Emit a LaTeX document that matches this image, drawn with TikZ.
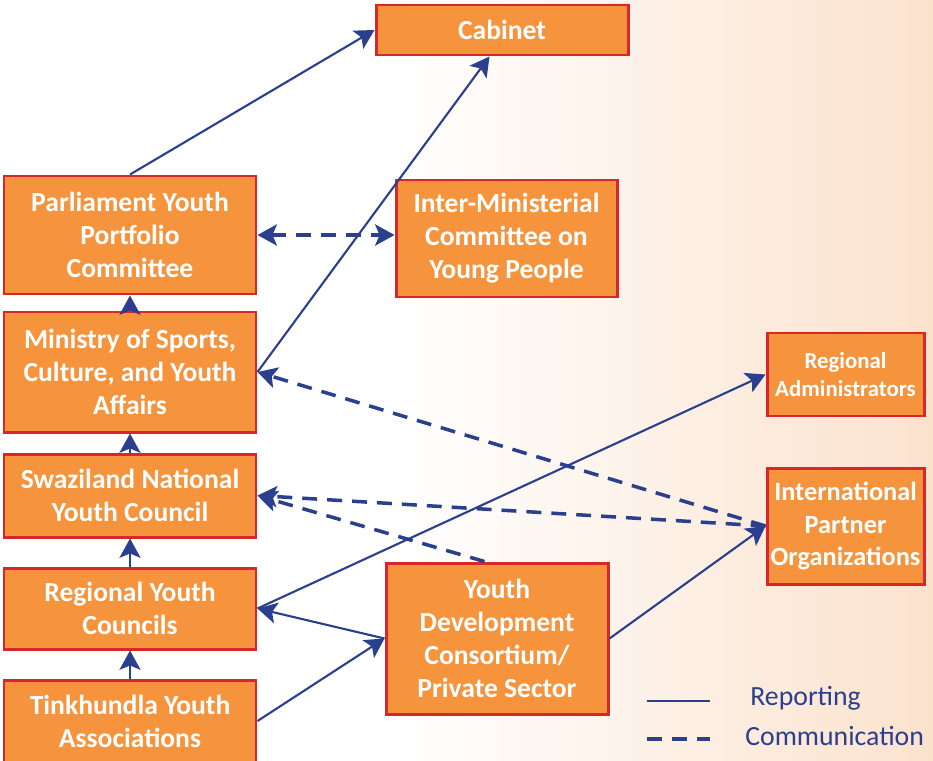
\documentclass[tikz,border=0pt]{standalone}
\usepackage{fontspec}
\setmainfont{Carlito}
\usetikzlibrary{arrows.meta}
\definecolor{boxorange}{HTML}{F5943C}
\definecolor{boxred}{HTML}{D9262B}
\definecolor{linkblue}{HTML}{2A3F8E}
\definecolor{peach}{HTML}{FBE2CD}
\definecolor{peachmid}{HTML}{FEF8F3}

\begin{document}
\begin{tikzpicture}[>={Stealth[length=11pt,width=12pt,inset=2.5pt]},
  box/.style={rectangle,draw=boxred,line width=1.7pt,fill=boxorange,text=white,align=center,inner sep=1pt,font=\bfseries\fontsize{15.7}{18.8}\selectfont},
  small/.style={font=\bfseries\fontsize{13}{15.9}\selectfont},
  rep/.style={->,draw=linkblue,line width=1.2pt},
  comm/.style={->,draw=linkblue,line width=2pt,dash pattern=on 8.5pt off 5.7pt},
  legend/.style={text=linkblue,inner sep=0pt,font=\fontsize{15.8}{19}\selectfont}]

\useasboundingbox (0,0) rectangle (18.66,15.2);
\shade[left color=white,middle color=peachmid,right color=peach] (8,0) rectangle (18.66,15.2);

\node(cab) at (10.04,14.6)[box,minimum width=5.04cm,minimum height=1cm]{Cabinet};
\node(pyc) at (2.6,10.5)[box,minimum width=5.04cm,minimum height=2.36cm]{Parliament Youth\\Portfolio\\Committee};
\node(imc) at (10.13,10.43)[box,minimum width=4.42cm,minimum height=2.34cm]{Inter-Ministerial\\Committee on\\Young People};
\node(min) at (2.6,7.76)[box,minimum width=5.04cm,minimum height=2.4cm]{Ministry of Sports,\\Culture, and Youth\\Affairs};
\node(snyc) at (2.6,5.29)[box,minimum width=5.04cm,minimum height=1.66cm]{Swaziland National\\Youth Council};
\node(ryc) at (2.6,3.03)[box,minimum width=5.04cm,minimum height=1.62cm]{Regional Youth\\Councils};
\node(tya) at (2.6,0.78)[box,minimum width=5.04cm,minimum height=1.64cm]{Tinkhundla Youth\\Associations};
\node(ydc) at (9.94,2.43)[box,minimum width=4.44cm,minimum height=3.02cm]{Youth\\Development\\Consortium/\\Private Sector};
\node(ra) at (16.91,7.71)[box,small,minimum width=3.14cm,minimum height=1.66cm]{Regional\\Administrators};
\node(ipo) at (16.91,4.68)[box,minimum width=3.14cm,minimum height=2.32cm,font=\bfseries\fontsize{15}{18.4}\selectfont]{International\\Partner\\Organizations};

\draw[rep] (pyc.north) -- (cab.west);
\draw[rep] (min.east) -- ([xshift=-0.25cm]cab.south);
\draw[comm,<->] (pyc.east) -- (pyc.east -| imc.west);
\draw[rep] (min) -- (pyc);
\draw[rep] (snyc) -- (min);
\draw[rep] (ryc) -- (snyc);
\draw[rep] (tya) -- (ryc);
\draw[rep] (ryc.east) -- (ra.west);
\draw[rep] (ydc.west) -- (ryc.east);
\draw[rep] (tya.east) -- (ydc.west);
\draw[rep] (ydc.east) -- (ipo.west);
\draw[comm] (ipo.west) -- (min.east);
\draw[comm] (ipo.west) -- (snyc.east);
\draw[comm] ([xshift=-0.25cm]ydc.north) -- (snyc.east);

% legend
\coordinate(r1) at (12.94,1.18);
\coordinate(r2) at (14.2,1.18);
\coordinate(c1) at (12.94,0.42);
\coordinate(c2) at (14.2,0.42);
\draw[linkblue,line width=1.2pt] (r1) -- (r2);
\draw[linkblue,line width=2pt,dash pattern=on 8.5pt off 5.7pt] (c1) -- (c2);
\node(rept) at (15,1.24)[legend,anchor=west]{Reporting};
\node(comt) at (14.9,0.48)[legend,anchor=west]{Communication};

\end{tikzpicture}
\end{document}
